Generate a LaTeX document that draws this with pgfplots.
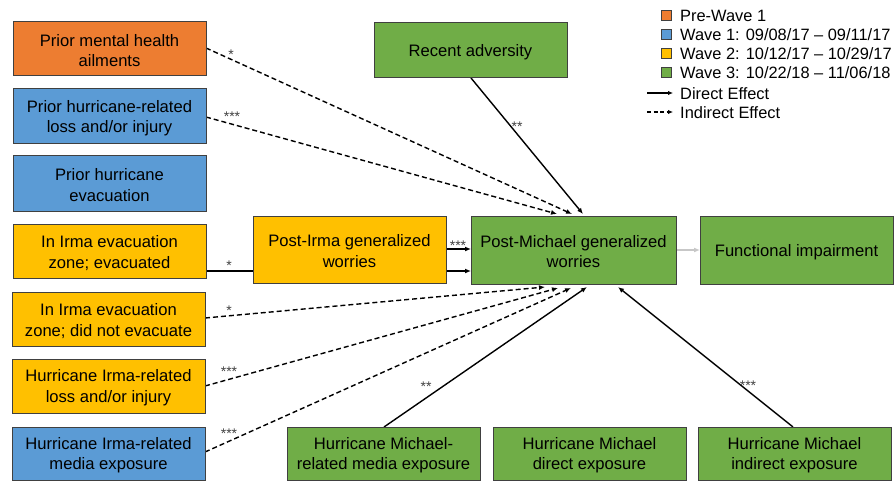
\documentclass[border=0pt]{standalone}
\usepackage{pgfplots}
\pgfplotsset{compat=1.18}
\usepackage{fontspec}
\setmainfont{Liberation Sans}
\usetikzlibrary{arrows.meta}

\definecolor{cOr}{HTML}{ED7D31}
\definecolor{cBl}{HTML}{5B9BD5}
\definecolor{cYe}{HTML}{FFC000}
\definecolor{cGr}{HTML}{70AD47}
\definecolor{cEdge}{HTML}{404040}

\tikzset{
  bx/.style={draw=cEdge, line width=1pt},
  txt/.style={align=center, font=\fontsize{16.6}{20.5}\selectfont, inner sep=0pt},
  sig/.style={font=\fontsize{14}{15}\selectfont, text=black!75, inner sep=0pt},
  lg/.style={anchor=west, font=\fontsize{16.4}{19}\selectfont, inner sep=0pt},
}
% box: x1,y1,x2,y2 (pixel coords, y down), fill, text
\newcommand{\bx}[6]{%
  \draw[bx, fill=#5] (axis cs:#1,#2) rectangle (axis cs:#3,#4);
  \node[txt] at (axis cs:{(#1+#3)/2},{(#2+#4)/2+1.8}) {#6};}

\begin{document}
\begin{tikzpicture}
\begin{axis}[
  scale only axis,
  width=896pt, height=481pt,
  xmin=0, xmax=896, ymin=0, ymax=481,
  y dir=reverse,
  hide axis,
  clip=false,
  direct/.style={black, line width=1.4pt, -{Latex[length=6pt,width=5pt]}},
  indirect/.style={black, line width=1.4pt, dash pattern=on 5pt off 3pt, -{Latex[length=6pt,width=5pt]}},
]
% invisible frame
\addplot[draw=none, forget plot] coordinates {(0,0) (896,481)};

% paths
\addplot[indirect] coordinates {(206,48) (572,214)};
\addplot[indirect] coordinates {(206,117) (557,214)};
\addplot[direct] coordinates {(471,78) (583,214)};
\addplot[black, line width=1.4pt] coordinates {(206,271) (253,271)};
\addplot[direct] coordinates {(446,249) (471,249)};
\addplot[direct] coordinates {(446,271) (471,271)};
\addplot[indirect] coordinates {(205,318) (545,287)};
\addplot[indirect] coordinates {(205,386) (558,288)};
\addplot[indirect] coordinates {(205,452) (571,288)};
\addplot[direct] coordinates {(384,427) (587,287)};
\addplot[direct] coordinates {(793,427) (618,287)};
\addplot[black!22, line width=1.4pt, -{Latex[length=6pt,width=5pt]}] coordinates {(676,250) (700,250)};

% boxes
\bx{13}{22}{206}{76}{cOr}{Prior mental health\\ailments}
\bx{13}{89}{206}{144}{cBl}{Prior hurricane-related\\loss and/or injury}
\bx{13}{156}{206}{211}{cBl}{Prior hurricane\\evacuation}
\bx{13}{224}{206}{278}{cYe}{In Irma evacuation\\zone; evacuated}
\bx{12}{292}{205}{346}{cYe}{In Irma evacuation\\zone; did not evacuate}
\bx{12}{359}{205}{413}{cYe}{Hurricane Irma-related\\loss and/or injury}
\bx{12}{427}{205}{480}{cBl}{Hurricane Irma-related\\media exposure}
\bx{374}{23}{567}{78}{cGr}{Recent adversity}
\bx{253}{216}{446}{283}{cYe}{Post-Irma generalized\\worries}
\bx{471}{216}{676}{284}{cGr}{Post-Michael generalized\\worries}
\bx{700}{216}{893}{284}{cGr}{Functional impairment}
\bx{287}{427}{480}{480}{cGr}{Hurricane Michael-\\related media exposure}
\bx{493}{427}{686}{480}{cGr}{Hurricane Michael\\direct exposure}
\bx{698}{427}{891}{480}{cGr}{Hurricane Michael\\indirect exposure}

% significance
\node[sig] at (axis cs:231,55) {*};
\node[sig] at (axis cs:232,117) {***};
\node[sig] at (axis cs:517,127) {**};
\node[sig] at (axis cs:229,266) {*};
\node[sig] at (axis cs:458,246) {***};
\node[sig] at (axis cs:229,311) {*};
\node[sig] at (axis cs:229,372) {***};
\node[sig] at (axis cs:229,434) {***};
\node[sig] at (axis cs:426,387) {**};
\node[sig] at (axis cs:748,386) {***};

% legend
\draw[bx, line width=0.8pt, fill=cOr] (axis cs:661,10) rectangle (axis cs:671,20);
\draw[bx, line width=0.8pt, fill=cBl] (axis cs:661,29) rectangle (axis cs:671,39);
\draw[bx, line width=0.8pt, fill=cYe] (axis cs:661,48) rectangle (axis cs:671,58);
\draw[bx, line width=0.8pt, fill=cGr] (axis cs:661,67) rectangle (axis cs:671,77);
\addplot[black, line width=1.3pt, -{Latex[length=5pt,width=4.5pt]}] coordinates {(647,93) (673,93)};
\addplot[black, line width=1.3pt, dash pattern=on 4pt off 2.5pt, -{Latex[length=5pt,width=4.5pt]}] coordinates {(647,112) (673,112)};
\node[lg] at (axis cs:680,16) {Pre-Wave 1};
\node[lg] at (axis cs:680,35) {Wave 1: 09/08/17 – 09/11/17};
\node[lg] at (axis cs:680,54) {Wave 2: 10/12/17 – 10/29/17};
\node[lg] at (axis cs:680,73) {Wave 3: 10/22/18 – 11/06/18};
\node[lg] at (axis cs:680,94) {Direct Effect};
\node[lg] at (axis cs:680,113) {Indirect Effect};
\end{axis}
\end{tikzpicture}
\end{document}
